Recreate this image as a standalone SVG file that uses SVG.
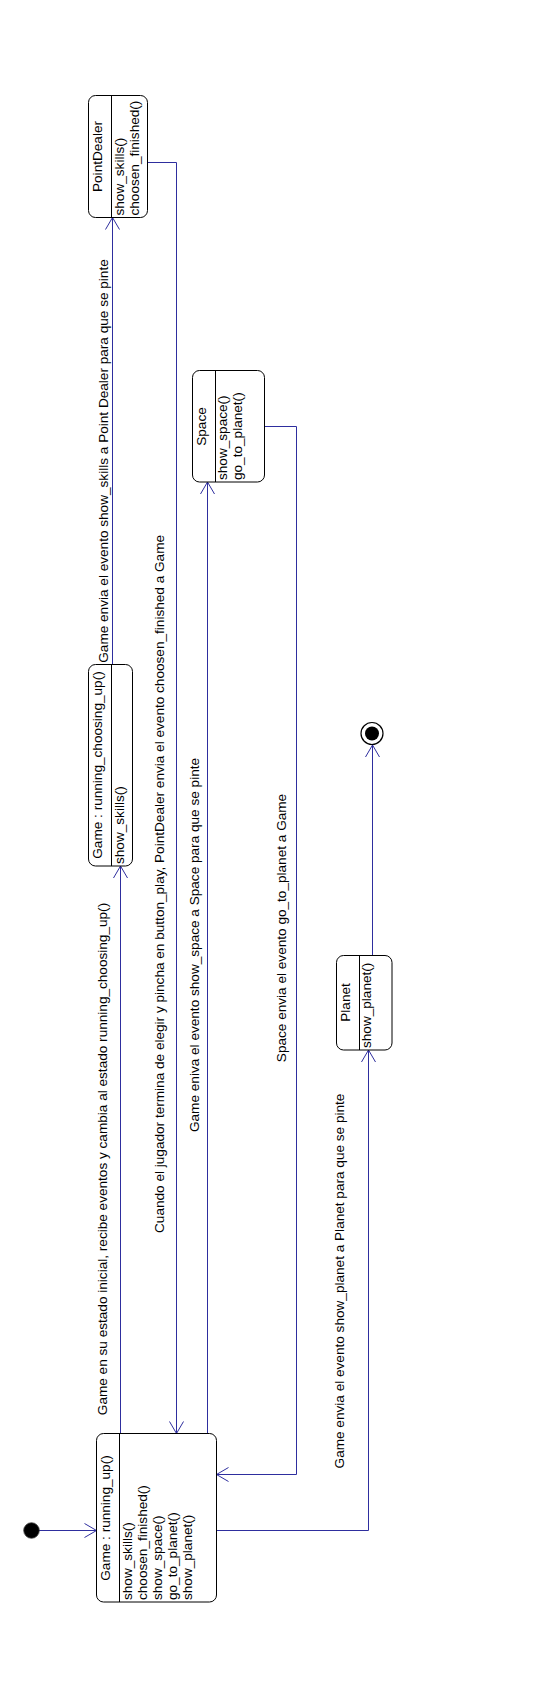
<svg xmlns="http://www.w3.org/2000/svg" width="560" height="1699" viewBox="0 0 560 1699">
<style>
.box{fill:#fff;stroke:#000;stroke-width:1}
.div{stroke:#000;stroke-width:1}
.t{font-family:"Liberation Sans",Arial,sans-serif;font-size:13.6px;fill:#000}
.c{fill:none;stroke:#2e2e9e;stroke-width:1}
</style>
<defs>
<marker id="arr" markerUnits="userSpaceOnUse" markerWidth="20" markerHeight="20" viewBox="-14 -10 16 20" refX="0" refY="0" orient="auto">
<path d="M-12,-7 L0,0 L-12,7" fill="none" stroke="#2e2e9e" stroke-width="1"/>
</marker>
</defs>
<rect width="560" height="1699" fill="#fff"/>
<g id="connectors">
<path class="c" d="M39,1530.5 H96.5" marker-end="url(#arr)"/>
<path class="c" d="M120.5,1433.5 V866" marker-end="url(#arr)"/>
<path class="c" d="M112.5,664.5 V217.5" marker-end="url(#arr)"/>
<path class="c" d="M147.5,162.5 H176.5 V1433.5" marker-end="url(#arr)"/>
<path class="c" d="M207.5,1433.5 V482" marker-end="url(#arr)"/>
<path class="c" d="M264.5,426.5 H296.5 V1474.5 H216.5" marker-end="url(#arr)"/>
<path class="c" d="M216.5,1530.5 H368.5 V1050" marker-end="url(#arr)"/>
<path class="c" d="M372.5,955.5 V745" marker-end="url(#arr)"/>
<text class="t" transform="translate(107,1159) rotate(-90)" text-anchor="middle">Game en su estado inicial, recibe eventos y cambia al estado running_choosing_up()</text>
<text class="t" transform="translate(107.5,461) rotate(-90)" text-anchor="middle">Game envia el evento show_skills a Point Dealer para que se pinte</text>
<text class="t" transform="translate(163.5,884) rotate(-90)" text-anchor="middle">Cuando el jugador termina de elegir y pincha en button_play, PointDealer envia el evento choosen_finished a Game</text>
<text class="t" transform="translate(199,945) rotate(-90)" text-anchor="middle">Game eniva el evento show_space a Space para que se pinte</text>
<text class="t" transform="translate(286,928) rotate(-90)" text-anchor="middle">Space envia el evento go_to_planet a Game</text>
<text class="t" transform="translate(344,1281) rotate(-90)" text-anchor="middle">Game envia el evento show_planet a Planet para que se pinte</text>
</g>
<g id="initial">
<circle cx="31.5" cy="1530.5" r="7.8" fill="#000" stroke="#444" stroke-width="0.8"/>
</g>
<g id="final">
<circle cx="372" cy="733.5" r="11" fill="#fff" stroke="#000" stroke-width="1.2"/>
<circle cx="372" cy="733.5" r="7" fill="#000"/>
</g>
<g id="game">
<rect class="box" x="96.5" y="1433.5" width="120" height="168.5" rx="7"/>
<line class="div" x1="119.5" y1="1433.5" x2="119.5" y2="1602"/>
<text class="t" transform="translate(109.5,1518) rotate(-90)" text-anchor="middle">Game : running_up()</text>
<text class="t" transform="translate(131.5,1600) rotate(-90)">show_skills()</text>
<text class="t" transform="translate(146.5,1600) rotate(-90)">choosen_finished()</text>
<text class="t" transform="translate(161.5,1600) rotate(-90)">show_space()</text>
<text class="t" transform="translate(176.5,1600) rotate(-90)">go_to_planet()</text>
<text class="t" transform="translate(191.5,1600) rotate(-90)">show_planet()</text>
</g>
<g id="pointdealer">
<rect class="box" x="88.5" y="95.5" width="59" height="122" rx="7"/>
<line class="div" x1="111.5" y1="95.5" x2="111.5" y2="217.5"/>
<text class="t" transform="translate(101.5,156.5) rotate(-90)" text-anchor="middle">PointDealer</text>
<text class="t" transform="translate(123.5,215.5) rotate(-90)">show_skills()</text>
<text class="t" transform="translate(139,215.5) rotate(-90)">choosen_finished()</text>
</g>
<g id="running_choosing_up">
<rect class="box" x="88.5" y="664.5" width="44" height="201.5" rx="7"/>
<line class="div" x1="111.5" y1="664.5" x2="111.5" y2="866"/>
<text class="t" transform="translate(101.5,765) rotate(-90)" text-anchor="middle">Game : running_choosing_up()</text>
<text class="t" transform="translate(123.5,864) rotate(-90)">show_skills()</text>
</g>
<g id="space">
<rect class="box" x="192.5" y="370.5" width="72" height="111.5" rx="7"/>
<line class="div" x1="215.5" y1="370.5" x2="215.5" y2="482"/>
<text class="t" transform="translate(205.5,426.5) rotate(-90)" text-anchor="middle">Space</text>
<text class="t" transform="translate(227,480) rotate(-90)">show_space()</text>
<text class="t" transform="translate(242,480) rotate(-90)">go_to_planet()</text>
</g>
<g id="planet">
<rect class="box" x="336.5" y="955.5" width="55.5" height="94.5" rx="7"/>
<line class="div" x1="359.5" y1="955.5" x2="359.5" y2="1050"/>
<text class="t" transform="translate(349.5,1002.5) rotate(-90)" text-anchor="middle">Planet</text>
<text class="t" transform="translate(371,1048) rotate(-90)">show_planet()</text>
</g>
</svg>
